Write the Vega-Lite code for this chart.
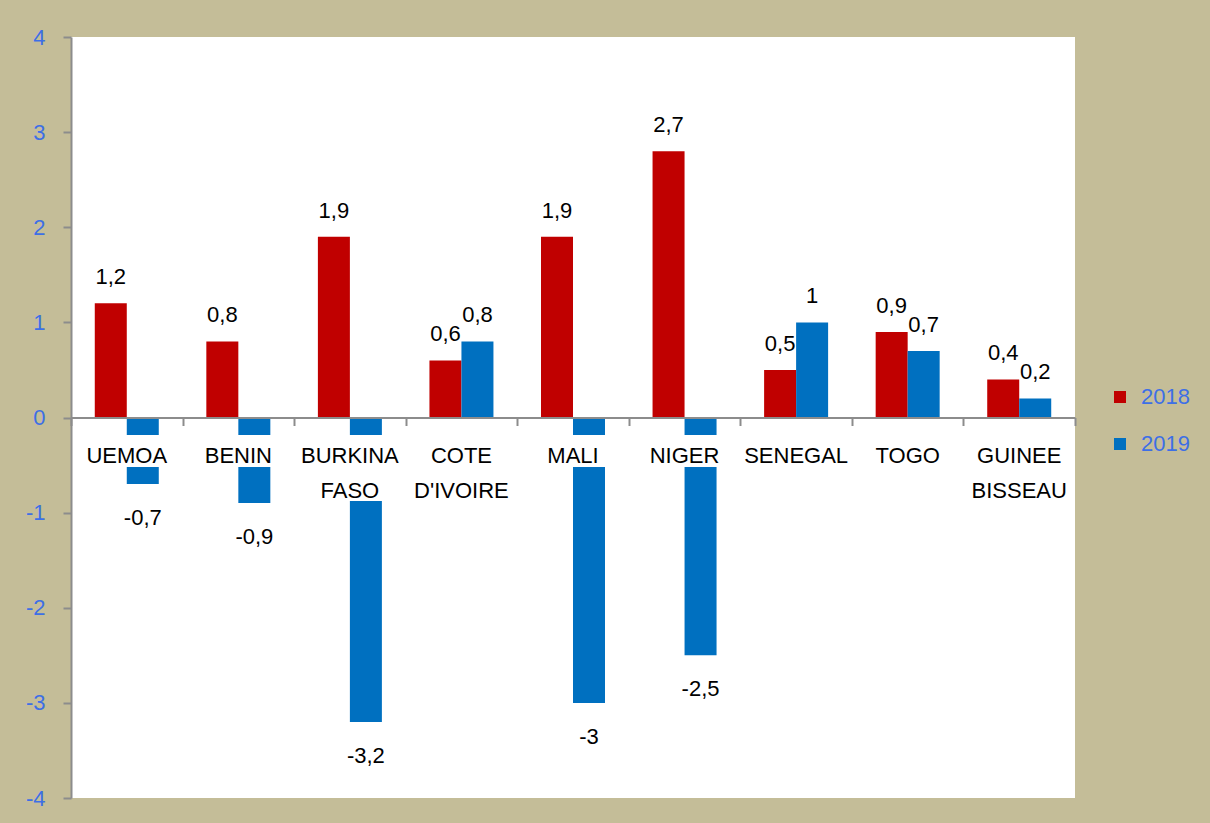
{
  "$schema": "https://vega.github.io/schema/vega-lite/v6.json",
  "width": 1004,
  "height": 761,
  "autosize": {"type": "none"},
  "padding": {"left": 71, "top": 37, "right": 135, "bottom": 25},
  "background": "#C4BD98",
  "config": {"view": {"fill": "white", "stroke": null}, "font": "Liberation Sans"},
  "datasets": {
    "bars": [
      {"cat": "UEMOA", "year": "2018", "value": 1.2, "label": "1,2"},
      {"cat": "UEMOA", "year": "2019", "value": -0.7, "label": "-0,7"},
      {"cat": "BENIN", "year": "2018", "value": 0.8, "label": "0,8"},
      {"cat": "BENIN", "year": "2019", "value": -0.9, "label": "-0,9"},
      {"cat": "BURKINA FASO", "year": "2018", "value": 1.9, "label": "1,9"},
      {"cat": "BURKINA FASO", "year": "2019", "value": -3.2, "label": "-3,2"},
      {"cat": "COTE D'IVOIRE", "year": "2018", "value": 0.6, "label": "0,6"},
      {"cat": "COTE D'IVOIRE", "year": "2019", "value": 0.8, "label": "0,8"},
      {"cat": "MALI", "year": "2018", "value": 1.9, "label": "1,9"},
      {"cat": "MALI", "year": "2019", "value": -3.0, "label": "-3"},
      {"cat": "NIGER", "year": "2018", "value": 2.8, "label": "2,7"},
      {"cat": "NIGER", "year": "2019", "value": -2.5, "label": "-2,5"},
      {"cat": "SENEGAL", "year": "2018", "value": 0.5, "label": "0,5"},
      {"cat": "SENEGAL", "year": "2019", "value": 1.0, "label": "1"},
      {"cat": "TOGO", "year": "2018", "value": 0.9, "label": "0,9"},
      {"cat": "TOGO", "year": "2019", "value": 0.7, "label": "0,7"},
      {"cat": "GUINEE BISSEAU", "year": "2018", "value": 0.4, "label": "0,4"},
      {"cat": "GUINEE BISSEAU", "year": "2019", "value": 0.2, "label": "0,2"}
    ],
    "cats": [
      {"cat": "UEMOA", "lbl": ["UEMOA"], "lines": 1},
      {"cat": "BENIN", "lbl": ["BENIN"], "lines": 1},
      {"cat": "BURKINA FASO", "lbl": ["BURKINA", "FASO"], "lines": 2},
      {"cat": "COTE D'IVOIRE", "lbl": ["COTE", "D'IVOIRE"], "lines": 2},
      {"cat": "MALI", "lbl": ["MALI"], "lines": 1},
      {"cat": "NIGER", "lbl": ["NIGER"], "lines": 1},
      {"cat": "SENEGAL", "lbl": ["SENEGAL"], "lines": 1},
      {"cat": "TOGO", "lbl": ["TOGO"], "lines": 1},
      {"cat": "GUINEE BISSEAU", "lbl": ["GUINEE", "BISSEAU"], "lines": 2}
    ]
  },
  "layer": [
    {
      "data": {"name": "bars"},
      "mark": {"type": "bar"},
      "encoding": {
        "x": {
          "field": "cat", "type": "nominal", "sort": null, "title": null,
          "scale": {"domain": ["UEMOA", "BENIN", "BURKINA FASO", "COTE D'IVOIRE", "MALI", "NIGER", "SENEGAL", "TOGO", "GUINEE BISSEAU"], "paddingInner": 0, "paddingOuter": 0},
          "axis": {"orient": "bottom", "offset": -380.5, "labels": false, "title": null, "grid": false, "domainColor": "#8C8C8C", "domainWidth": 2, "tickColor": "#8C8C8C", "tickWidth": 2, "tickSize": 8, "tickBand": "extent", "zindex": 1}
        },
        "xOffset": {"field": "year", "type": "nominal", "scale": {"paddingInner": 0, "paddingOuter": 0.743}},
        "y": {
          "field": "value", "type": "quantitative", "title": null,
          "scale": {"domain": [-4, 4], "nice": false, "zero": false},
          "axis": {"values": [-4, -3, -2, -1, 0, 1, 2, 3, 4], "title": null, "grid": false, "labelExpr": "toString(datum.value)", "labelColor": "#3D6FE6", "labelFontSize": 22, "labelFont": "Liberation Sans", "labelPadding": 18, "tickSize": 8, "tickColor": "#8C8C8C", "tickWidth": 2, "domainColor": "#8C8C8C", "domainWidth": 2}
        },
        "color": {
          "field": "year", "type": "nominal",
          "scale": {"domain": ["2018", "2019"], "range": ["#C00000", "#0070C0"]},
          "legend": {"orient": "none", "legendX": 1038, "legendY": 349, "title": null, "symbolType": "square", "symbolSize": 144, "symbolStrokeWidth": 0, "labelFontSize": 22, "labelFont": "Liberation Sans", "labelColor": "#3D6FE6", "rowPadding": 25, "labelOffset": 10, "padding": 0}
        }
      }
    },
    {
      "data": {"name": "cats"},
      "mark": {"type": "bar", "color": "white", "width": {"band": 0.8}},
      "encoding": {
        "x": {"field": "cat", "type": "nominal", "sort": null, "title": null},
        "y": {"datum": -0.184, "type": "quantitative", "title": null},
        "y2": {"datum": -0.52}
      }
    },
    {
      "data": {"name": "cats"},
      "transform": [{"filter": "datum.lines > 1"}],
      "mark": {"type": "bar", "color": "white", "width": {"band": 0.8}},
      "encoding": {
        "x": {"field": "cat", "type": "nominal", "sort": null, "title": null},
        "y": {"datum": -0.5, "type": "quantitative", "title": null},
        "y2": {"datum": -0.878}
      }
    },
    {
      "data": {"name": "cats"},
      "mark": {"type": "text", "color": "black", "fontSize": 22, "font": "Liberation Sans", "baseline": "alphabetic", "align": "center", "dy": 45.5, "lineHeight": 35},
      "encoding": {
        "x": {"field": "cat", "type": "nominal", "sort": null, "title": null},
        "y": {"datum": 0, "type": "quantitative", "title": null},
        "text": {"field": "lbl"}
      }
    },
    {
      "data": {"name": "bars"},
      "transform": [{"filter": "datum.value >= 0"}],
      "mark": {"type": "text", "color": "black", "fontSize": 22, "font": "Liberation Sans", "baseline": "middle", "align": "center", "dy": -26},
      "encoding": {
        "x": {"field": "cat", "type": "nominal", "sort": null, "title": null},
        "xOffset": {"field": "year", "type": "nominal"},
        "y": {"field": "value", "type": "quantitative", "title": null},
        "text": {"field": "label"}
      }
    },
    {
      "data": {"name": "bars"},
      "transform": [{"filter": "datum.value < 0"}],
      "mark": {"type": "text", "color": "black", "fontSize": 22, "font": "Liberation Sans", "baseline": "middle", "align": "center", "dy": 34},
      "encoding": {
        "x": {"field": "cat", "type": "nominal", "sort": null, "title": null},
        "xOffset": {"field": "year", "type": "nominal"},
        "y": {"field": "value", "type": "quantitative", "title": null},
        "text": {"field": "label"}
      }
    }
  ]
}
